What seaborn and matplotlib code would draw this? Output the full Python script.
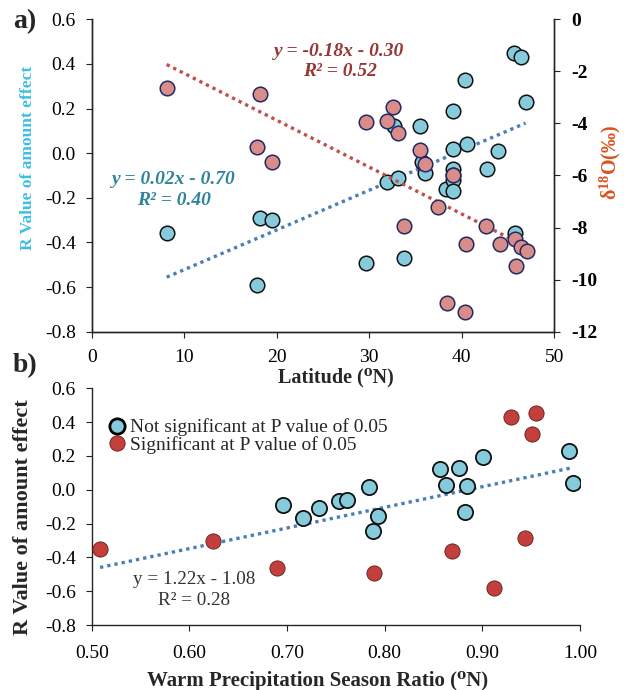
import matplotlib
matplotlib.use("Agg")
import matplotlib.pyplot as plt
import numpy as np
import seaborn as sns
from matplotlib.lines import Line2D

# ---- panel a: R value of amount effect vs latitude ----
r_lat = [8.1, 17.9, 18.2, 19.5, 29.6, 31.9, 32.7, 33.1, 33.7, 35.5, 35.7, 36.0,
         38.3, 39.1, 39.05, 39.0, 39.0, 39.1, 39.0, 40.4, 40.6, 42.7, 43.9,
         45.6, 45.8, 46.4, 46.9]
r_val = [-0.36, -0.59, -0.29, -0.30, -0.49, -0.13, 0.12, -0.11, -0.47, 0.12, -0.04, -0.09,
         -0.16, 0.19, 0.02, -0.07, -0.10, -0.12, -0.17, 0.33, 0.04, -0.07, 0.01,
         0.45, -0.36, 0.43, 0.23]

d18o_lat = [8.1, 18.2, 17.9, 19.5, 29.7, 31.9, 32.6, 33.1, 33.7, 35.5, 36.0, 37.4,
            38.4, 39.1, 40.4, 40.5, 42.6, 44.1, 45.7, 45.9, 46.4, 47.0]
d18o_val = [-2.63, -2.87, -4.92, -5.48, -3.95, -3.91, -3.36, -4.38, -7.95, -5.03, -5.55, -7.2,
            -10.88, -6.0, -11.24, -8.62, -7.95, -8.62, -8.43, -9.49, -8.74, -8.91]

r_fit = (0.0178, -0.70)      # shown as y = 0.02x - 0.70
d18o_fit = (-0.18, -0.28)    # shown as y = -0.18x - 0.30

# ---- panel b: R value vs warm precipitation season ratio ----
ns_ratio = [0.6955, 0.716, 0.7326, 0.7528, 0.761, 0.784, 0.7934, 0.788,
            0.8565, 0.876, 0.863, 0.884, 0.8824, 0.9008, 0.9885, 0.993]
ns_r = [-0.092, -0.169, -0.106, -0.067, -0.061, 0.014, -0.156, -0.243,
        0.121, 0.127, 0.026, 0.022, -0.134, 0.192, 0.231, 0.042]
sig_ratio = [0.5085, 0.6245, 0.690, 0.789, 0.929, 0.9548, 0.951, 0.9435, 0.8685, 0.912]
sig_r = [-0.353, -0.302, -0.465, -0.491, 0.432, 0.456, 0.330, -0.284, -0.363, -0.58]
ratio_fit = (1.22, -1.08)

r_ticks = [-0.8, -0.6, -0.4, -0.2, 0.0, 0.2, 0.4, 0.6]
d18o_ticks = [-12, -10, -8, -6, -4, -2, 0]
lat_ticks = [0, 10, 20, 30, 40, 50]
ratio_ticks = [0.5, 0.6, 0.7, 0.8, 0.9, 1.0]

sns.set_style("ticks")
plt.rcParams["font.family"] = ["Liberation Serif", "DejaVu Serif"]
plt.rcParams["mathtext.fontset"] = "custom"
plt.rcParams["mathtext.rm"] = "Liberation Serif"
plt.rcParams["mathtext.bf"] = "Liberation Serif:bold"
plt.rcParams["axes.unicode_minus"] = False
plt.rcParams["axes.linewidth"] = 1.0
plt.rcParams["xtick.major.size"] = 4.5
plt.rcParams["ytick.major.size"] = 4.5

BLUE = "#86CBDB"
PINK = "#DA8C88"
RED = "#C23F3C"
LINE_BLUE = "#4A7EBB"
LINE_RED = "#C0504D"
TICK_FS = 14
W, H = 624, 690


def fx(px):
    return px / W


def fy(py):
    return 1 - py / H


fig = plt.figure(figsize=(6.24, 6.9), dpi=100)
ax = fig.add_axes([0.147, 0.5193, 0.7413, 0.4528])
ax2 = ax.twinx()

# trend lines
x_r = np.array([min(r_lat), max(r_lat)])
sns.lineplot(x=x_r, y=r_fit[0] * x_r + r_fit[1], ax=ax, color=LINE_BLUE,
             linestyle=(0, (1, 1.2)), linewidth=2.4, zorder=2)
x_d = np.array([min(d18o_lat), max(d18o_lat)])
sns.lineplot(x=x_d, y=d18o_fit[0] * x_d + d18o_fit[1], ax=ax2, color=LINE_RED,
             linestyle=(0, (1, 1.2)), linewidth=2.4, zorder=2)

sns.scatterplot(x=r_lat, y=r_val, ax=ax, s=110, color=BLUE, edgecolor="#111111",
                linewidth=1.1, zorder=3)
sns.scatterplot(x=d18o_lat, y=d18o_val, ax=ax2, s=110, color=PINK, edgecolor="#1F2A66",
                linewidth=1.1, zorder=3)

ax.set_xlim(0, 50)
ax.set_ylim(-0.8, 0.6)
ax.set_xticks(lat_ticks)
ax.set_yticks(r_ticks)
ax.set_yticklabels([f"{v:.1f}" for v in r_ticks])
ax2.set_ylim(-12, 0)
ax2.set_yticks(d18o_ticks)
ax.tick_params(axis="y", labelsize=TICK_FS, colors="#222222", labelcolor="black", pad=7)
ax.tick_params(axis="x", labelsize=TICK_FS, colors="#222222", labelcolor="black", pad=8)
ax2.tick_params(labelsize=TICK_FS, colors="#222222", labelcolor="black", pad=8)
for lab in ax2.get_yticklabels():
    lab.set_fontweight("bold")
ax.spines["top"].set_visible(False)
ax2.spines["top"].set_visible(False)
ax.set_xlabel("")
ax.set_ylabel("")
ax2.set_ylabel("")

eq_kw = dict(fontsize=14, fontweight="bold", style="italic", ha="center", va="center")
ax.text(8.9, -0.12, "y = 0.02x - 0.70", color="#31849B", **eq_kw)
ax.text(8.9, -0.21, "R² = 0.40", color="#31849B", **eq_kw)
ax.text(26.7, 0.455, "y = -0.18x - 0.30", color="#953735", **eq_kw)
ax.text(26.8, 0.365, "R² = 0.52", color="#953735", **eq_kw)

fig.text(fx(28), fy(158), "R Value of amount effect", color="#3EBFE6",
         fontsize=12.5, fontweight="bold", rotation=90, ha="center", va="center")
fig.text(fx(610), fy(162), r"δ$^{\mathbf{18}}$O(‰)", color="#D9541E",
         fontsize=14.5, fontweight="bold", rotation=90, ha="center", va="center")
fig.text(fx(336), fy(377), "Latitude (⁰N)", fontsize=14.5,
         fontweight="bold", ha="center", va="center")
fig.text(fx(25), fy(22), "a)", fontsize=20, fontweight="bold",
         ha="center", va="center")
fig.text(fx(25), fy(366), "b)", fontsize=20, fontweight="bold",
         ha="center", va="center")

# ---- panel b ----
bx = fig.add_axes([0.147, 0.0942, 0.7825, 0.343])
all_ratio = ns_ratio + sig_ratio
x_b = np.array([min(all_ratio), max(all_ratio)])
sns.lineplot(x=x_b, y=ratio_fit[0] * x_b + ratio_fit[1], ax=bx, color=LINE_BLUE,
             linestyle=(0, (1, 1.2)), linewidth=2.4, zorder=2)
sns.scatterplot(x=ns_ratio, y=ns_r, ax=bx, s=120, color=BLUE, edgecolor="#111111",
                linewidth=1.3, zorder=3)
sns.scatterplot(x=sig_ratio, y=sig_r, ax=bx, s=120, color=RED, edgecolor="#5A1E1E",
                linewidth=0.6, zorder=3)
bx.set_xlim(0.5, 1.0)
bx.set_ylim(-0.8, 0.6)
bx.set_xticks(ratio_ticks)
bx.set_xticklabels([f"{v:.2f}" for v in ratio_ticks])
bx.set_yticks(r_ticks)
bx.set_yticklabels([f"{v:.1f}" for v in r_ticks])
bx.tick_params(axis="y", labelsize=TICK_FS, colors="#222222", labelcolor="black", pad=7)
bx.tick_params(axis="x", labelsize=TICK_FS, colors="#222222", labelcolor="black", pad=10)
sns.despine(ax=bx)
bx.set_xlabel("")
bx.set_ylabel("")
fig.text(fx(318), fy(681), "Warm Precipitation Season Ratio (⁰N)", fontsize=15,
         fontweight="bold", ha="center", va="center")
fig.text(fx(23), fy(517), "R Value of amount effect", fontsize=16,
         fontweight="bold", rotation=90, ha="center", va="center")

bx.text(0.5 + (194 - 91.7) / 977, -0.528, "y = 1.22x - 1.08", fontsize=13.8,
        color="#333333", ha="center", va="center")
bx.text(0.5 + (194 - 91.7) / 977, -0.654, "R² = 0.28", fontsize=13.8,
        color="#333333", ha="center", va="center")

handles = [
    Line2D([], [], marker="o", linestyle="", markersize=11, markerfacecolor=BLUE,
           markeredgecolor="#000000", markeredgewidth=2.0),
    Line2D([], [], marker="o", linestyle="", markersize=11, markerfacecolor=RED,
           markeredgecolor="#5A1E1E", markeredgewidth=0.6),
]
bx.legend(handles, ["Not significant at P value of 0.05", "Significant at P value of 0.05"],
          loc="upper left", bbox_to_anchor=(0.0, 0.93), frameon=False, fontsize=14,
          handletextpad=0.05, labelspacing=0.0, borderaxespad=0.3, handlelength=1.2)

fig.savefig("out.png", dpi=100)
